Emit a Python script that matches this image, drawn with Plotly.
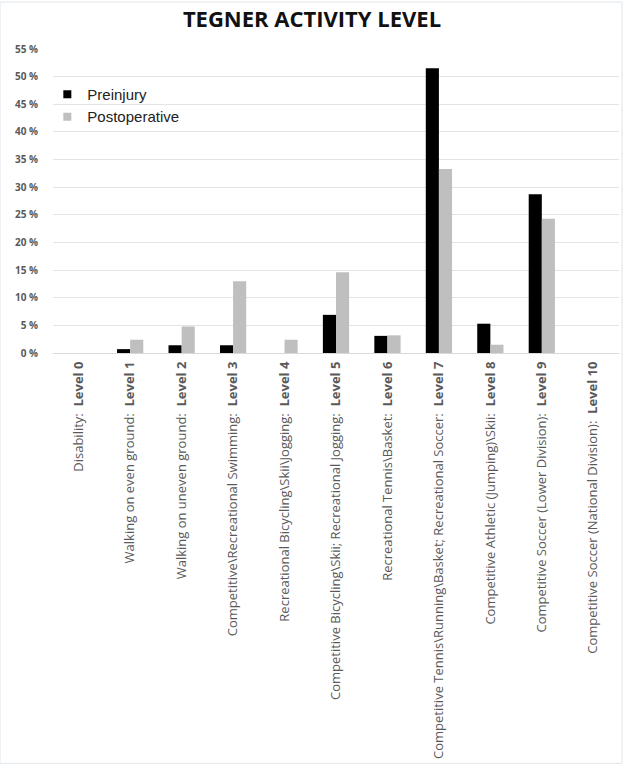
import plotly.graph_objects as go

activities = ["Disability:", "Walking on even ground:", "Walking on uneven ground:",
              "Competitive\\Recreational Swimming:", "Recreational Bicycling\\Skii\\Jogging:",
              "Competitive Bicycling\\Skii; Recreational Jogging:", "Recreational Tennis\\Basket:",
              "Competitive Tennis\\Running\\Basket; Recreational Soccer:",
              "Competitive Athletic (Jumping)\\Skii:", "Competitive Soccer (Lower Division):",
              "Competitive Soccer (National Division):"]
levels = ["Level %d" % i for i in range(11)]
preinjury = [0, 0.7, 1.4, 1.4, 0, 6.9, 3.1, 51.5, 5.3, 28.7, 0]
postoperative = [0, 2.4, 4.8, 13.0, 2.4, 14.6, 3.2, 33.3, 1.5, 24.3, 0]
y_ticks = list(range(0, 60, 5))
series_names = ["Preinjury", "Postoperative"]
series_colors = ["#000000", "#bfbfbf"]

ticktext = [f"{a}\u00a0\u00a0<b>{l}</b>" for a, l in zip(activities, levels)]
x = list(range(11))

fig = go.Figure()
for name, vals, col in zip(series_names, [preinjury, postoperative], series_colors):
    fig.add_trace(go.Bar(x=x, y=vals, name=name, marker_color=col,
                         marker_line_width=0, showlegend=False))
for name, col in zip(series_names, series_colors):
    fig.add_trace(go.Scatter(x=[None], y=[None], mode="markers", name=name,
                             marker=dict(symbol="square", size=8, color=col)))

fig.update_layout(
    width=624, height=769,
    margin=dict(l=53, r=5, t=49, b=415.5, autoexpand=False),
    paper_bgcolor="white", plot_bgcolor="white",
    barmode="group", bargap=0.49, bargroupgap=0,
    title=dict(text="<b>TEGNER ACTIVITY LEVEL</b>", x=0.5, xanchor="center",
               y=1 - 19/769, yanchor="middle",
               font=dict(family="Open Sans", size=22, color="#111111")),
    legend=dict(x=-0.01, y=0.905, xanchor="left", yanchor="top",
                font=dict(family="Liberation Sans", size=15, color="#222222"),
                bgcolor="rgba(0,0,0,0)", itemwidth=30),
    font=dict(family="Open Sans"),
    showlegend=True,
)
fig.update_xaxes(tickmode="array", tickvals=x, ticktext=ticktext, tickangle=-90,
                 range=[-0.5, 10.5], showgrid=False, showline=False, ticks="",
                 automargin=False, ticklabelstandoff=5,
                 tickfont=dict(family="Open Sans", size=13, color="#595959"))
fig.update_yaxes(range=[0, 55], tickvals=y_ticks, ticktext=[f"<b>{v} %</b>" for v in y_ticks],
                 tickmode="array", showgrid=True, gridcolor="#e4e4e4", gridwidth=1,
                 zeroline=True, zerolinecolor="#d9d9d9", zerolinewidth=1,
                 showline=False, ticklabelstandoff=14, automargin=False,
                 tickfont=dict(family="Open Sans", size=10, color="#595959"))
fig.add_shape(type="rect", xref="paper", yref="paper",
              x0=-53/566, x1=1 + 3/566, y0=-411/304.5, y1=1 + 47/304.5,
              line=dict(color="#dfe6ec", width=1), fillcolor="rgba(0,0,0,0)", layer="below")

fig.write_html("out.html", config={"displayModeBar": False},
               post_script="document.body.style.margin='0px';")
